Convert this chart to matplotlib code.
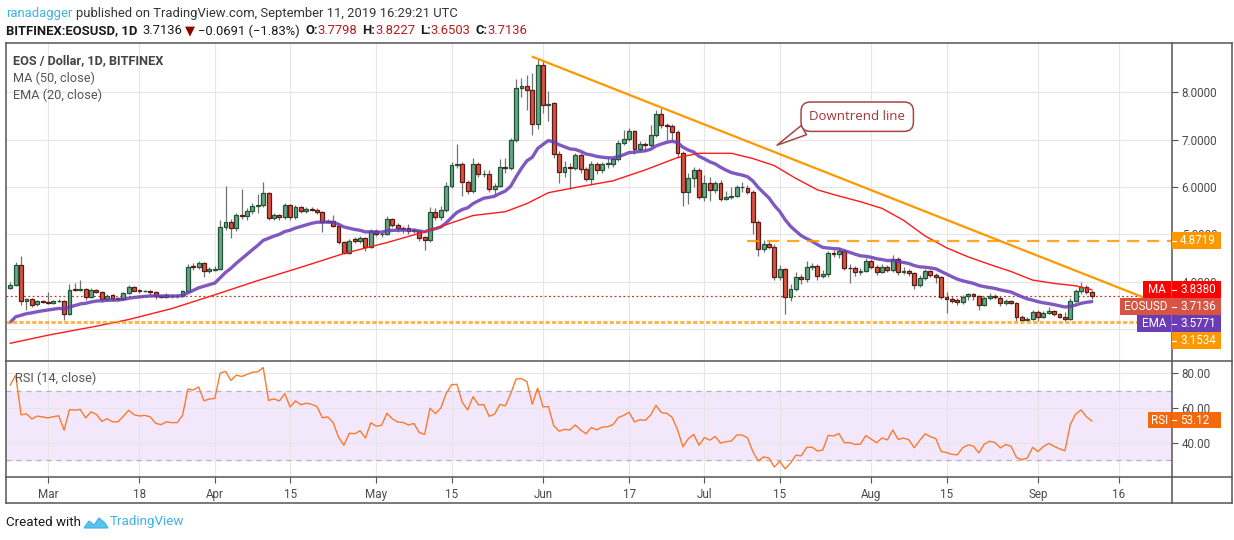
import numpy as np
import pandas as pd
import matplotlib
matplotlib.use("Agg")
import matplotlib.pyplot as plt
from matplotlib.patches import Rectangle, Polygon
from matplotlib.lines import Line2D

W, H = 1234, 540
plt.rcParams['font.family'] = ['Liberation Sans Narrow', 'Roboto', 'DejaVu Sans']

# ---------------- data ----------------
start_date = '2019-02-22'
opens = [3.87,3.94,4.36,3.61,3.65,3.53,3.61,3.58,3.56,3.59,
         3.60,3.32,3.85,3.83,3.86,3.68,3.83,3.79,3.65,3.72,
         3.67,3.65,3.76,3.89,3.83,3.80,3.81,3.79,3.70,3.68,
         3.70,3.70,3.71,3.80,4.33,4.31,4.39,4.23,4.26,4.27,
         5.15,5.26,5.13,5.40,5.38,5.49,5.60,5.63,5.87,5.34,
         5.40,5.36,5.62,5.36,5.57,5.49,5.54,5.52,5.48,5.27,
         5.29,5.18,4.85,4.62,4.90,4.86,4.92,4.74,5.08,5.00,
         5.02,5.32,5.20,5.13,5.14,5.07,5.07,4.94,4.88,5.47,
         5.36,5.51,6.03,6.46,6.49,6.10,5.91,6.49,6.27,6.28,
         5.95,6.03,6.43,6.39,6.98,8.08,8.12,8.04,7.32,8.56,
         7.72,7.76,6.69,6.32,6.43,6.39,6.67,6.38,6.16,6.48,
         6.35,6.48,6.48,6.59,6.92,7.02,7.17,6.81,6.90,6.88,
         7.09,7.54,7.31,7.28,7.15,6.71,5.90,6.19,6.36,5.78,
         6.08,5.94,6.08,5.74,5.79,5.81,5.99,5.97,5.89,5.27,
         4.69,4.81,4.74,4.11,4.28,3.68,3.85,4.11,4.06,4.32,
         4.33,4.13,4.16,4.60,4.58,4.65,4.30,4.29,4.22,4.23,
         4.44,4.32,4.20,4.31,4.25,4.48,4.20,4.24,4.19,3.93,
         4.08,4.23,4.15,4.10,3.69,3.65,3.62,3.57,3.71,3.74,
         3.71,3.52,3.66,3.71,3.67,3.55,3.60,3.56,3.27,3.21,
         3.23,3.37,3.27,3.34,3.38,3.32,3.27,3.23,3.60,3.80,
         3.89,3.7798]
highs = [3.99,4.42,4.55,3.66,3.67,3.63,3.63,3.78,3.62,3.64,
         3.62,3.96,3.97,4.05,3.88,3.87,3.86,3.82,3.74,3.75,
         3.69,3.79,3.93,3.91,3.85,3.84,3.83,3.81,3.72,3.76,
         3.74,3.74,3.83,4.38,4.40,4.45,4.42,4.32,4.33,5.30,
         6.03,5.32,5.45,5.96,5.56,5.66,5.85,6.10,5.90,5.45,
         5.44,5.66,5.65,5.62,5.60,5.58,5.57,5.55,5.50,5.33,
         5.42,5.20,4.87,4.90,4.95,4.97,4.95,5.12,5.11,5.05,
         5.38,5.35,5.24,5.17,5.22,5.14,5.10,4.97,5.57,5.56,
         5.60,6.10,6.52,6.90,6.52,6.14,6.60,6.52,6.35,6.36,
         6.08,6.58,6.60,7.03,8.28,8.30,8.35,8.40,8.71,8.66,
         8.02,7.80,6.75,6.55,6.50,6.72,6.72,6.42,6.55,6.52,
         6.53,6.60,6.62,7.00,7.20,7.25,7.20,6.96,6.95,7.30,
         7.62,7.67,7.35,7.33,7.20,6.75,6.30,6.42,6.40,6.25,
         6.20,6.12,6.15,5.92,6.00,6.05,6.10,6.05,5.93,5.30,
         4.88,4.86,4.80,4.36,4.30,3.95,4.22,4.16,4.45,4.40,
         4.38,4.25,4.66,4.68,4.72,4.70,4.38,4.33,4.30,4.50,
         4.48,4.36,4.38,4.35,4.56,4.52,4.32,4.28,4.22,4.15,
         4.28,4.26,4.18,4.12,3.78,3.70,3.66,3.73,3.76,3.77,
         3.73,3.70,3.76,3.74,3.70,3.64,3.63,3.58,3.30,3.27,
         3.42,3.40,3.38,3.48,3.40,3.34,3.36,3.66,3.85,3.99,
         3.93,3.8227]
lows = [3.85,3.92,3.52,3.40,3.47,3.50,3.55,3.54,3.53,3.57,
        3.19,3.30,3.80,3.80,3.62,3.66,3.76,3.58,3.60,3.61,
        3.60,3.63,3.74,3.80,3.77,3.78,3.72,3.64,3.66,3.66,
        3.67,3.67,3.69,3.78,4.25,4.28,4.10,4.19,4.24,4.25,
        5.10,4.93,5.08,5.32,5.30,5.44,5.45,5.58,5.30,5.30,
        5.31,5.33,5.31,5.33,5.46,5.46,5.49,5.44,5.05,5.24,
        5.15,4.80,4.58,4.58,4.82,4.83,4.66,4.71,4.96,4.95,
        4.98,5.15,5.05,5.03,5.02,5.04,4.87,4.68,4.85,5.30,
        5.30,5.48,5.98,6.40,5.82,5.86,5.88,6.22,6.20,5.90,
        5.86,6.00,6.30,6.35,6.95,7.90,7.62,7.10,7.23,7.55,
        7.40,6.60,6.08,6.20,5.95,6.35,6.30,6.12,6.05,6.28,
        6.30,6.40,6.42,6.55,6.88,6.97,6.70,6.76,6.75,6.84,
        7.05,7.25,7.00,6.98,6.60,5.60,5.65,6.00,5.75,5.70,
        5.70,5.88,5.70,5.72,5.74,5.78,5.90,5.85,5.02,4.55,
        4.63,4.70,4.05,4.05,3.33,3.60,3.80,3.95,4.00,4.25,
        4.05,4.08,4.10,4.52,4.50,4.25,3.97,4.12,4.15,4.20,
        4.28,4.15,4.18,4.20,4.22,4.15,4.17,4.12,3.85,3.90,
        4.05,4.10,3.98,3.65,3.34,3.55,3.52,3.54,3.62,3.62,
        3.40,3.49,3.63,3.64,3.50,3.52,3.53,3.17,3.17,3.18,
        3.20,3.17,3.24,3.32,3.29,3.24,3.18,3.21,3.58,3.75,
        3.74,3.6503]
closes = [3.94,4.36,3.61,3.64,3.52,3.60,3.58,3.56,3.59,3.61,
          3.32,3.84,3.83,3.85,3.68,3.84,3.79,3.65,3.71,3.65,
          3.65,3.76,3.89,3.82,3.80,3.81,3.79,3.70,3.68,3.72,
          3.71,3.71,3.80,4.32,4.31,4.39,4.23,4.27,4.28,5.15,
          5.26,5.13,5.40,5.38,5.49,5.60,5.63,5.87,5.34,5.40,
          5.36,5.62,5.36,5.57,5.49,5.54,5.52,5.48,5.27,5.29,
          5.18,4.85,4.62,4.87,4.86,4.92,4.74,5.08,5.00,5.02,
          5.32,5.20,5.13,5.12,5.07,5.10,4.92,4.88,5.47,5.36,
          5.51,6.03,6.46,6.49,6.10,5.91,6.49,6.27,6.28,5.95,
          6.03,6.43,6.39,6.98,8.08,8.12,8.04,7.32,8.56,7.72,
          7.75,6.69,6.32,6.43,6.39,6.67,6.38,6.16,6.48,6.35,
          6.48,6.50,6.59,6.92,7.02,7.17,6.81,6.90,6.88,7.09,
          7.54,7.30,7.28,7.15,6.71,5.90,6.19,6.36,5.78,6.08,
          5.94,6.08,5.74,5.79,5.81,6.01,6.01,5.90,5.27,4.69,
          4.81,4.74,4.11,4.28,3.68,3.85,4.10,4.06,4.32,4.33,
          4.13,4.16,4.60,4.58,4.65,4.29,4.29,4.22,4.23,4.44,
          4.32,4.20,4.31,4.25,4.48,4.20,4.23,4.18,3.93,4.08,
          4.23,4.15,4.10,3.69,3.65,3.59,3.57,3.69,3.74,3.71,
          3.52,3.66,3.71,3.68,3.55,3.60,3.56,3.27,3.21,3.23,
          3.37,3.27,3.34,3.38,3.32,3.27,3.23,3.60,3.80,3.89,
          3.78,3.7136]

# 50-day MA (day offset from start, value)
ma_days = [0,7,16,22,30,38,46,54,62,70,78,86,92,96,100,106,112,118,124,128,134,
           138,142,146,150,154,158,162,166,170,174,178,182,186,190,194,198,201]
ma_vals = [2.71,2.88,3.07,3.21,3.44,3.73,4.03,4.31,4.60,4.83,5.09,5.40,5.48,5.65,5.88,
           6.01,6.13,6.36,6.62,6.71,6.71,6.60,6.45,6.18,5.94,5.81,5.69,5.55,5.30,4.97,
           4.72,4.53,4.37,4.22,4.04,3.97,3.92,3.838]
ema_seed = 3.07
rsi_prev_close = 3.87
rsi_seed_gain = 0.09
rsi_seed_loss = 0.035

trend_days = [97.1, 210.5]
trend_prices = [8.74, 3.68]
resistance = 4.8719
resistance_start_day = 137
support = 3.1534
callout_point = (142.5, 6.88)
callout_text_pos = (157.4, 7.48)

tick_dates = ['2019-03-01', '2019-03-18', '2019-04-01', '2019-04-15', '2019-05-01',
              '2019-05-15', '2019-06-01', '2019-06-17', '2019-07-01', '2019-07-15',
              '2019-08-01', '2019-08-15', '2019-09-01', '2019-09-16']
tick_labels = ['Mar', '18', 'Apr', '15', 'May', '15', 'Jun', '17', 'Jul', '15',
               'Aug', '15', 'Sep', '16']
price_ticks = [3, 4, 5, 6, 7, 8]
price_tick_labels = ['', '4.0000', '5.0000', '6.0000', '7.0000', '8.0000']
rsi_ticks = [40, 60, 80]

last_close = 3.7136
ma_last = 3.8380
ema_last = 3.5771
rsi_last = 53.12

n = len(closes)
assert len(opens) == n and len(highs) == n and len(lows) == n, (len(opens), len(highs), len(lows), n)

# ---------------- indicators ----------------
alpha = 2.0 / 21.0
ema = []
prev = ema_seed
for c in closes:
    prev = prev + alpha * (c - prev)
    ema.append(prev)

rsi = []
g, l = rsi_seed_gain, rsi_seed_loss
pc = rsi_prev_close
for c in closes:
    d = c - pc
    g = (g * 13 + max(d, 0)) / 14
    l = (l * 13 + max(-d, 0)) / 14
    rsi.append(100 - 100 / (1 + g / l))
    pc = c

# ---------------- figure ----------------
fig = plt.figure(figsize=(W / 100, H / 100), dpi=100)
fig.patch.set_facecolor('white')

def fx(px):
    return px / W

def fy(py):
    return 1 - py / H

LX, RX = 6, 1172
TOP, SEP, RB, DB = 43, 361, 477, 503
ax = fig.add_axes([fx(LX), fy(SEP), fx(RX) - fx(LX), (SEP - TOP) / H])
axr = fig.add_axes([fx(LX), fy(RB), fx(RX) - fx(LX), (RB - SEP) / H], sharex=ax)

x = np.arange(n)
o = np.array(opens); c = np.array(closes); hi = np.array(highs); lo = np.array(lows)
up = c >= o
ax.vlines(x, lo, hi, color='#737375', lw=0.9, zorder=3)
ax.bar(x[up], np.maximum((c - o)[up], 0.008), bottom=o[up], width=0.72,
       color='#6ba583', edgecolor='#225437', lw=0.9, zorder=3)
ax.bar(x[~up], np.maximum((o - c)[~up], 0.008), bottom=c[~up], width=0.72,
       color='#d75442', edgecolor='#5b1a13', lw=0.9, zorder=3)

XMIN, XMAX = -0.8, 215.9
ax.plot(x, ema, color='#6a3cb5', lw=2.4, alpha=0.85, zorder=4, solid_capstyle='round')
ax.plot(ma_days, ma_vals, color='#ff1a1a', lw=1.0, zorder=4)
ax.axhline(last_close, color='#c0392b', lw=0.9, ls=(0, (1.5, 2)), zorder=2)
ax.plot([resistance_start_day, XMAX], [resistance, resistance], color='#ff9800',
        lw=1.6, ls=(0, (5.5, 3.5)), alpha=0.85, zorder=4)
ax.axhline(support, color='#ff9800', lw=2.2, ls=(0, (1.4, 0.7)), alpha=0.7, zorder=4)
ax.plot(trend_days, trend_prices, color='#ff9800', lw=1.6, zorder=5)

ax.annotate('Downtrend line', xy=callout_point, xytext=callout_text_pos,
            ha='center', va='center', fontsize=9.5, color='#a23535',
            family=['Open Sans', 'DejaVu Sans'],
            bbox=dict(boxstyle='round,pad=0.62,rounding_size=0.7', fc='white',
                      ec='#a84444', lw=1.1),
            arrowprops=dict(arrowstyle='wedge,tail_width=0.8,shrink_factor=0.5',
                            fc='white', ec='#a84444', lw=1.1, relpos=(0.12, 0.2),
                            shrinkA=0, shrinkB=0),
            zorder=7)

# axes ranges & grids
ax.set_xlim(XMIN, XMAX)
ax.set_ylim(2.3368, 9.0316)
axr.set_ylim(20.57, 86.86)
tick_pos = [(pd.Timestamp(t) - pd.Timestamp(start_date)).days for t in tick_dates]
ax.set_xticks(tick_pos)
ax.set_yticks(price_ticks)
ax.set_yticklabels(price_tick_labels)
axr.set_yticks(rsi_ticks)
axr.set_yticklabels(['%.2f' % v for v in rsi_ticks])
axr.set_xticklabels(tick_labels)

for a in (ax, axr):
    a.set_axisbelow(True)
    a.grid(True, color='#e6e6e6', lw=0.8)
    for s in a.spines.values():
        s.set_visible(False)
    a.yaxis.tick_right()
    a.tick_params(axis='y', right=True, left=False, length=4, width=0.8, color='#555555',
                  pad=3, labelsize=8.4, labelcolor='#4a4a4a')
ax.tick_params(axis='x', bottom=False, labelbottom=False)
axr.tick_params(axis='x', bottom=True, length=4, width=0.8, color='#555555', pad=4,
                labelsize=8.4, labelcolor='#4a4a4a')

# RSI pane
axr.axhspan(30, 70, color='#f3e7fc', zorder=0)
axr.axhline(70, color='#b7aebf', lw=0.9, ls=(0, (4, 4)), zorder=1)
axr.axhline(30, color='#b7aebf', lw=0.9, ls=(0, (4, 4)), zorder=1)
axr.plot(x, rsi, color='#fb7a2c', lw=1.0, zorder=3)

# frame lines
fc = '#555555'
for (x0, y0, x1, y1) in [(LX, TOP, 1232, TOP), (LX, SEP, 1232, SEP), (LX, RB, 1232, RB),
                         (LX, DB, 1232, DB), (LX, TOP, LX, DB), (RX, TOP, RX, DB),
                         (1232, TOP, 1232, DB)]:
    fig.add_artist(Line2D([fx(x0), fx(x1)], [fy(y0), fy(y1)], color=fc, lw=1.1))

# ---------------- price labels on the axis ----------------
def py_of(axis, v):
    return H - axis.transData.transform((0, v))[1]

BH = 16.5

def box(x0, x1, yc, color, text, ha='center', tx=None, size=8.4, weight='normal'):
    fig.add_artist(Rectangle((fx(x0), fy(yc + BH / 2)), fx(x1) - fx(x0), BH / H,
                             fc=color, ec='none', zorder=8, transform=fig.transFigure))
    if tx is None:
        tx = (x0 + x1) / 2
    fig.text(fx(tx), fy(yc), text, color='white', ha=ha, va='center', fontsize=size,
             zorder=9, weight=weight)

def value_box(yc, color, text):
    box(RX, 1221, yc, color, text, ha='left', tx=1180)
    fig.add_artist(Line2D([fx(RX), fx(RX + 4)], [fy(yc), fy(yc)], color='white', lw=0.8,
                          zorder=9))

items = [(resistance, '#ff9800', '%.4f' % resistance, None, None),
         (ma_last, '#ff0000', '%.4f' % ma_last, 'MA', 1143),
         (last_close, '#d75442', '%.4f' % last_close, 'EOSUSD', 1120),
         (ema_last, '#6a3cb5', '%.4f' % ema_last, 'EMA', 1137),
         (support, '#ff9800', '%.4f' % support, None, None)]
prev_y = -1e9
for val, col, txt, lab, lx in items:
    yc = max(py_of(ax, val), prev_y + BH + 0.5)
    prev_y = yc
    value_box(yc, col, txt)
    if lab:
        box(lx, RX - 1, yc, col, lab)

yr = py_of(axr, rsi_last)
value_box(yr, '#f26a0d', '%.2f' % rsi_last)
box(1148, RX - 1, yr, '#f26a0d', 'RSI')

# ---------------- texts ----------------
renderer = fig.canvas.get_renderer()

def chain(x0, y0, parts, size):
    xx = x0
    for s, col, wt, gap in parts:
        t = fig.text(fx(xx), fy(y0), s, color=col, weight=wt, fontsize=size,
                     ha='left', va='center')
        bb = t.get_window_extent(renderer)
        xx = bb.x1 + gap

chain(6, 13, [('ranadagger', '#3bb3e4', 'normal', 4),
              ('published on TradingView.com, September 11, 2019 16:29:21 UTC', '#333333', 'normal', 0)], 9.4)
red = '#b71c1c'
chain(6, 31, [('BITFINEX:EOSUSD, 1D', '#1a1a1a', 'bold', 5),
              ('3.7136', '#1a1a1a', 'normal', 3),
              ('\u25BC', '#8b0000', 'normal', 3),
              ('\u22120.0691 (\u22121.83%)', '#1a1a1a', 'normal', 5),
              ('O:', '#1a1a1a', 'bold', 0), ('3.7798', red, 'normal', 5),
              ('H:', '#1a1a1a', 'bold', 0), ('3.8227', red, 'normal', 5),
              ('L:', '#1a1a1a', 'bold', 0), ('3.6503', red, 'normal', 5),
              ('C:', '#1a1a1a', 'bold', 0), ('3.7136', red, 'normal', 0)], 9.4)

fig.text(fx(13), fy(61), 'EOS / Dollar, 1D, BITFINEX', color='#444444', weight='bold',
         fontsize=9.2, va='center')
fig.text(fx(13), fy(78), 'MA (50, close)', color='#555555', fontsize=9.2, va='center')
fig.text(fx(13), fy(95), 'EMA (20, close)', color='#555555', fontsize=9.2, va='center')
fig.text(fx(15), fy(378), 'RSI (14, close)', color='#555555', fontsize=9.2, va='center')

# footer
t = fig.text(fx(6), fy(522), 'Created with', color='#1a1a1a', fontsize=9.6, va='center')
bb = t.get_window_extent(renderer)
lx0 = bb.x1 + 3
logo = [(0, 6), (5, -1), (10, 3), (15, -4), (21, 1), (24, 6)]
fig.add_artist(Polygon([(fx(lx0 + a), fy(522 + b)) for a, b in logo], closed=True,
                       fc='#5bc2ee', ec='#3bb3e4', lw=0.8, transform=fig.transFigure))
fig.text(fx(lx0 + 26), fy(522), 'TradingView', color='#3bb3e4', fontsize=9.6, va='center')

fig.savefig('out.png', dpi=100, facecolor='white')
